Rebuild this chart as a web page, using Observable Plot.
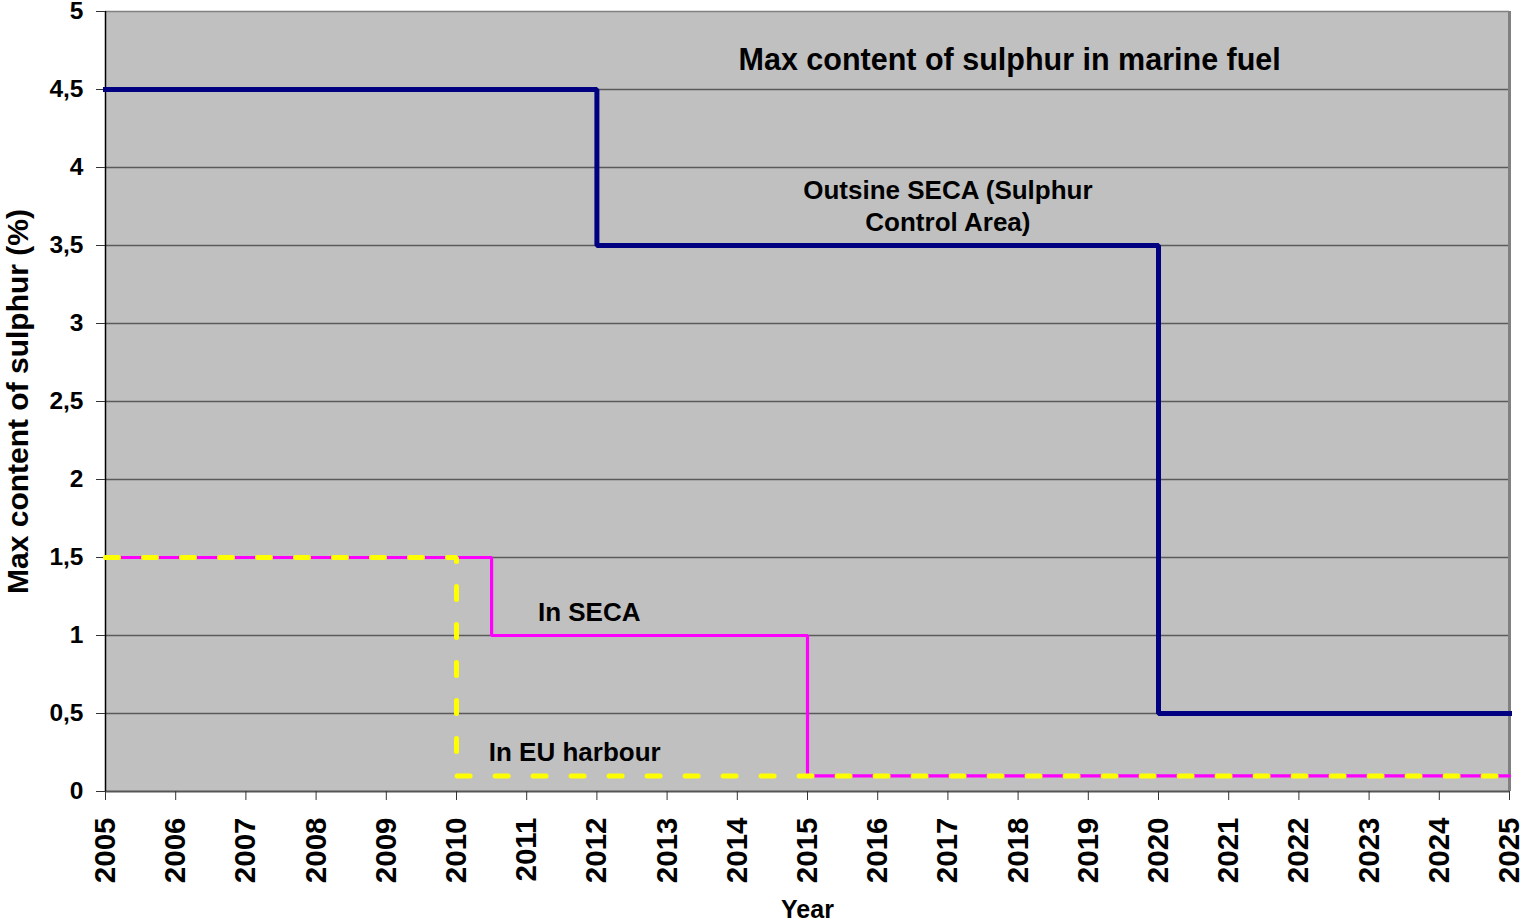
<!DOCTYPE html>
<html><head><meta charset="utf-8">
<script src="https://cdn.jsdelivr.net/npm/d3@7"></script>
<script src="https://cdn.jsdelivr.net/npm/@observablehq/plot@0.6"></script>
<style>
html,body{margin:0;padding:0;background:#fff;}
svg{font-family:Arial,"Liberation Sans",sans-serif;}
</style></head>
<body><div id="chart"></div>
<script>
const outsideYears = [2005, 2012, 2020, 2025];
const outsideValues = [4.5, 3.5, 0.5, 0.5];
const secaYears = [2005, 2010.5, 2015, 2025];
const secaValues = [1.5, 1.0, 0.1, 0.1];
const harbourYears = [2005, 2010, 2025];
const harbourValues = [1.5, 0.1, 0.1];
const xTicks = d3.range(2005, 2026);
const yTicks = [0, 0.5, 1, 1.5, 2, 2.5, 3, 3.5, 4, 4.5, 5];
const outsideLabel = {t: "Outsine SECA (Sulphur\nControl Area)", x: 2017.0, y: 3.763};
const startLabelTexts = ["In SECA", "In EU harbour"];
const startLabelX = [2011.16, 2010.46];
const startLabelY = [1.144, 0.247];
const titleText = "Max content of sulphur in marine fuel";
const titleX = 2017.88, titleY = 4.69;

const outside = outsideYears.map((x, i) => ({x, y: outsideValues[i]}));
const seca = secaYears.map((x, i) => ({x, y: secaValues[i]}));
const harbour = harbourYears.map((x, i) => ({x, y: harbourValues[i]}));
const startLabels = startLabelTexts.map((t, i) => ({t, x: startLabelX[i], y: startLabelY[i]}));
const fmtY = d => String(d).replace(".", ",");

const chart = Plot.plot({
  width: 1522, height: 923,
  marginLeft: 105, marginRight: 13, marginTop: 11, marginBottom: 132,
  x: {domain: [2005, 2025], ticks: xTicks, tickFormat: d => String(d), label: null},
  y: {domain: [0, 5], ticks: yTicks, tickFormat: fmtY, label: null},
  marks: [
    Plot.frame({fill: "#c0c0c0", stroke: null}),
    Plot.ruleY(yTicks.filter(d => d > 0 && d < 5), {stroke: "#5a5a5a", strokeWidth: 1.3}),
    Plot.ruleY([5], {stroke: "#808080", strokeWidth: 1.5}),
    Plot.ruleX([2025], {stroke: "#808080", strokeWidth: 3}),
    Plot.ruleY([0], {stroke: "#555", strokeWidth: 2}),
    Plot.ruleX([2005], {stroke: "#000", strokeWidth: 1.5}),
    Plot.axisY({ticks: yTicks, tickSize: 9, tickPadding: 13, tickFormat: fmtY, fontSize: 24.5, fontWeight: "bold", stroke: "#333", label: null}),
    Plot.axisX({ticks: xTicks, tickSize: 9, tickPadding: 17, tickRotate: -90, tickFormat: d => String(d), fontSize: 29.5, fontWeight: "bold", stroke: "#333", label: null}),
    Plot.line(outside, {x: "x", y: "y", curve: "step-after", stroke: "#000080", strokeWidth: 5, strokeLinejoin: "miter", strokeLinecap: "square"}),
    Plot.line(seca, {x: "x", y: "y", curve: "step-after", stroke: "#ff00ff", strokeWidth: 3.2, strokeLinejoin: "miter"}),
    Plot.line(harbour, {x: "x", y: "y", curve: "step-after", stroke: "#ffff00", strokeWidth: 5, strokeDasharray: "13,25", strokeLinejoin: "miter"}),
    Plot.text([outsideLabel], {x: "x", y: "y", text: "t", textAnchor: "middle", fontSize: 26, fontWeight: "bold", fill: "#000", lineHeight: 1.23}),
    Plot.text(startLabels, {x: "x", y: "y", text: "t", textAnchor: "start", fontSize: 26, fontWeight: "bold", fill: "#000"}),
    Plot.text([titleText], {x: () => titleX, y: () => titleY, text: d => d, fontSize: 30.5, fontWeight: "bold", fill: "#000"}),
    Plot.text(["Year"], {frameAnchor: "bottom", lineAnchor: "middle", dy: 118, text: d => d, fontSize: 25, fontWeight: "bold", fill: "#000"}),
    Plot.text(["Max content of sulphur (%)"], {frameAnchor: "left", textAnchor: "middle", dx: -87, rotate: -90, text: d => d, fontSize: 30, fontWeight: "bold", fill: "#000"})
  ]
});
document.getElementById("chart").appendChild(chart);
</script>
</body></html>
